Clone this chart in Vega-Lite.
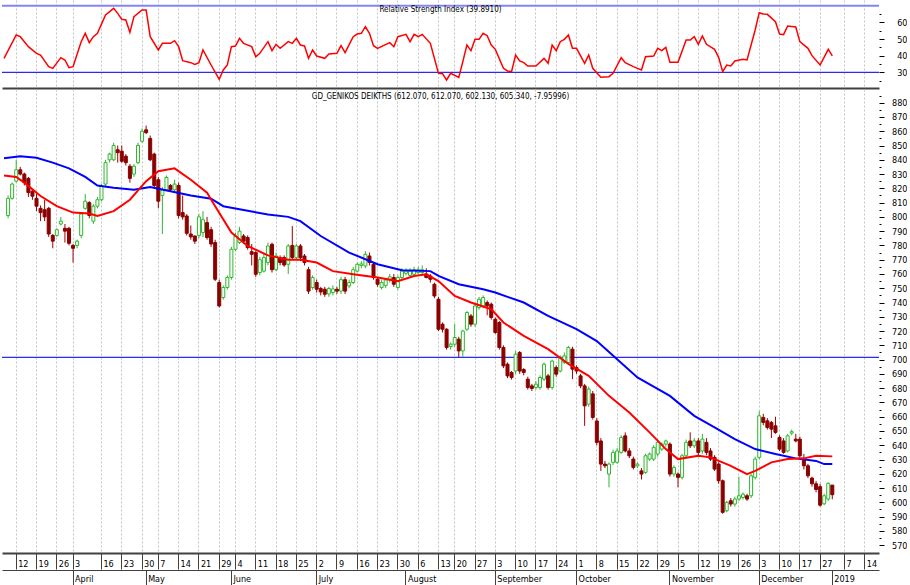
{
"$schema": "https://vega.github.io/schema/vega-lite/v6.json",
"background": "white",
"padding": 0,
"spacing": 1,
"config": {
 "view": {"stroke": null},
 "font": "Liberation Sans Narrow, Arial Narrow, DejaVu Sans Condensed, sans-serif",
 "axis": {"labelFont": "Liberation Sans Narrow, Arial Narrow, DejaVu Sans Condensed, sans-serif", "labelFontSize": 9, "labelColor": "#000000"},
 "title": {"font": "Liberation Sans Narrow, Arial Narrow, DejaVu Sans Condensed, sans-serif", "fontSize": 8, "fontWeight": "normal", "color": "#000000"}
},
"datasets": {
 "c": [
{"d":"2018-03-08","o":801,"h":815,"l":799,"c":813},
{"d":"2018-03-09","o":813,"h":824,"l":812,"c":823},
{"d":"2018-03-12","o":825,"h":840,"l":824,"c":833},
{"d":"2018-03-13","o":833,"h":835,"l":829,"c":830},
{"d":"2018-03-14","o":830,"h":831,"l":822,"c":824},
{"d":"2018-03-15","o":827,"h":828,"l":814,"c":817},
{"d":"2018-03-16","o":818,"h":819,"l":812,"c":814.5},
{"d":"2018-03-19","o":813,"h":816,"l":804,"c":807.5},
{"d":"2018-03-20","o":806,"h":808,"l":797,"c":803},
{"d":"2018-03-21","o":805,"h":812,"l":797,"c":800},
{"d":"2018-03-22","o":806,"h":807,"l":786,"c":788},
{"d":"2018-03-23","o":787,"h":788,"l":778,"c":783},
{"d":"2018-03-26","o":787,"h":792,"l":786,"c":791},
{"d":"2018-03-27","o":795,"h":800,"l":794,"c":797},
{"d":"2018-03-28","o":792,"h":795,"l":782,"c":790},
{"d":"2018-03-29","o":792,"h":793,"l":780,"c":781.5},
{"d":"2018-04-03","o":780,"h":781,"l":768,"c":778},
{"d":"2018-04-04","o":780,"h":784,"l":778,"c":783},
{"d":"2018-04-05","o":787,"h":803,"l":785,"c":802},
{"d":"2018-04-10","o":806,"h":816,"l":805,"c":811},
{"d":"2018-04-11","o":810,"h":811,"l":799,"c":801},
{"d":"2018-04-12","o":797,"h":809,"l":795,"c":807.5},
{"d":"2018-04-13","o":807.5,"h":814,"l":806,"c":812},
{"d":"2018-04-16","o":812,"h":823,"l":811,"c":821.5},
{"d":"2018-04-17","o":823,"h":840,"l":821,"c":838},
{"d":"2018-04-18","o":840,"h":845,"l":838,"c":844},
{"d":"2018-04-19","o":840,"h":852,"l":839,"c":850},
{"d":"2018-04-20","o":847,"h":850,"l":838,"c":845},
{"d":"2018-04-23","o":846,"h":850,"l":838,"c":839},
{"d":"2018-04-24","o":842.5,"h":844,"l":836,"c":838},
{"d":"2018-04-25","o":835.5,"h":837,"l":824,"c":827},
{"d":"2018-04-26","o":830,"h":837,"l":828,"c":835.5},
{"d":"2018-04-27","o":838,"h":852,"l":837,"c":850},
{"d":"2018-04-30","o":853,"h":862,"l":852,"c":860},
{"d":"2018-05-02","o":861,"h":864,"l":858,"c":859},
{"d":"2018-05-03","o":855,"h":857,"l":839,"c":840},
{"d":"2018-05-04","o":844,"h":845,"l":820,"c":822},
{"d":"2018-05-07","o":826,"h":828,"l":806,"c":811},
{"d":"2018-05-08","o":815,"h":821,"l":788,"c":819},
{"d":"2018-05-09","o":819,"h":829,"l":818,"c":827.6},
{"d":"2018-05-10","o":822,"h":823,"l":818,"c":819},
{"d":"2018-05-11","o":819,"h":826,"l":818,"c":823},
{"d":"2018-05-14","o":822,"h":824,"l":799,"c":801},
{"d":"2018-05-15","o":803,"h":815,"l":798,"c":800},
{"d":"2018-05-16","o":800.6,"h":802,"l":787,"c":788.5},
{"d":"2018-05-17","o":788,"h":794,"l":784,"c":786},
{"d":"2018-05-18","o":786.6,"h":787,"l":781,"c":783},
{"d":"2018-05-21","o":787,"h":802,"l":785,"c":800},
{"d":"2018-05-22","o":789,"h":804,"l":786,"c":798},
{"d":"2018-05-23","o":796,"h":800,"l":784,"c":785.5},
{"d":"2018-05-24","o":791,"h":793,"l":779,"c":781},
{"d":"2018-05-25","o":782,"h":784,"l":755,"c":756.3},
{"d":"2018-05-29","o":754,"h":756,"l":736.5,"c":737.6},
{"d":"2018-05-30","o":743.5,"h":752,"l":742,"c":750.5},
{"d":"2018-05-31","o":750.5,"h":759,"l":749,"c":757.5},
{"d":"2018-06-01","o":757.5,"h":779,"l":756,"c":777.3},
{"d":"2018-06-04","o":777.3,"h":789,"l":776,"c":786.6},
{"d":"2018-06-05","o":782,"h":793,"l":781,"c":790},
{"d":"2018-06-06","o":786.6,"h":788,"l":781,"c":783},
{"d":"2018-06-07","o":785.5,"h":787,"l":777,"c":778.5},
{"d":"2018-06-08","o":775.6,"h":781,"l":766,"c":773.8},
{"d":"2018-06-11","o":775,"h":776,"l":758,"c":759.8},
{"d":"2018-06-12","o":761,"h":772,"l":759,"c":770},
{"d":"2018-06-13","o":762,"h":774,"l":761,"c":771.5},
{"d":"2018-06-14","o":768,"h":782,"l":766,"c":779.6},
{"d":"2018-06-15","o":780.8,"h":782,"l":761,"c":763},
{"d":"2018-06-18","o":763,"h":775,"l":762,"c":772.6},
{"d":"2018-06-19","o":771.5,"h":773,"l":766,"c":768},
{"d":"2018-06-20","o":771.5,"h":773,"l":765,"c":766.3},
{"d":"2018-06-21","o":766.8,"h":781,"l":760,"c":779.6},
{"d":"2018-06-22","o":780,"h":793.6,"l":770,"c":771.6},
{"d":"2018-06-25","o":771.4,"h":781,"l":770,"c":779.6},
{"d":"2018-06-26","o":779.6,"h":781,"l":769,"c":771.4},
{"d":"2018-06-27","o":772.6,"h":774,"l":766,"c":768},
{"d":"2018-06-28","o":763,"h":765,"l":746,"c":748},
{"d":"2018-06-29","o":750.5,"h":759,"l":749,"c":757.5},
{"d":"2018-07-02","o":754,"h":756,"l":747,"c":749.3},
{"d":"2018-07-03","o":749.8,"h":751,"l":745,"c":747.4},
{"d":"2018-07-04","o":749.3,"h":751,"l":744,"c":745.8},
{"d":"2018-07-05","o":746,"h":751,"l":744,"c":749.8},
{"d":"2018-07-06","o":747,"h":752,"l":745,"c":749.5},
{"d":"2018-07-09","o":749.3,"h":751,"l":746,"c":748},
{"d":"2018-07-10","o":748,"h":758,"l":746,"c":756},
{"d":"2018-07-11","o":756,"h":758,"l":746,"c":748},
{"d":"2018-07-12","o":751.6,"h":756,"l":750,"c":754},
{"d":"2018-07-13","o":754,"h":765,"l":753,"c":763},
{"d":"2018-07-16","o":762,"h":768,"l":761,"c":766.8},
{"d":"2018-07-17","o":766,"h":769,"l":764,"c":767},
{"d":"2018-07-18","o":765.6,"h":776,"l":764,"c":773.8},
{"d":"2018-07-19","o":772.6,"h":775,"l":766,"c":768},
{"d":"2018-07-20","o":766.8,"h":768,"l":756,"c":757.5},
{"d":"2018-07-23","o":756.3,"h":758,"l":751,"c":752.8},
{"d":"2018-07-24","o":750.5,"h":756,"l":749,"c":754},
{"d":"2018-07-25","o":752,"h":757,"l":750,"c":755.8},
{"d":"2018-07-26","o":756,"h":760,"l":754,"c":758},
{"d":"2018-07-27","o":757.5,"h":760,"l":751,"c":752.8},
{"d":"2018-07-30","o":750.5,"h":759,"l":749,"c":757.5},
{"d":"2018-07-31","o":757.5,"h":764,"l":756,"c":762},
{"d":"2018-08-01","o":760.5,"h":764,"l":759,"c":762},
{"d":"2018-08-02","o":759,"h":764,"l":758,"c":762},
{"d":"2018-08-03","o":759.8,"h":765,"l":758,"c":763},
{"d":"2018-08-06","o":761,"h":765,"l":760,"c":763},
{"d":"2018-08-07","o":761,"h":766,"l":760,"c":763},
{"d":"2018-08-08","o":760,"h":764,"l":757,"c":757.5},
{"d":"2018-08-09","o":758.6,"h":760,"l":754,"c":756.3},
{"d":"2018-08-10","o":752.8,"h":754,"l":743,"c":744.6},
{"d":"2018-08-13","o":742.3,"h":744,"l":720,"c":721.3},
{"d":"2018-08-14","o":724.8,"h":726,"l":719,"c":721.3},
{"d":"2018-08-16","o":721.3,"h":722,"l":707,"c":708.5},
{"d":"2018-08-17","o":709.2,"h":712,"l":707,"c":710.8},
{"d":"2018-08-20","o":710.8,"h":725,"l":709,"c":715.5},
{"d":"2018-08-21","o":714.3,"h":716,"l":701.7,"c":706.1},
{"d":"2018-08-22","o":706.1,"h":721,"l":702,"c":720},
{"d":"2018-08-23","o":721.3,"h":734,"l":720,"c":733},
{"d":"2018-08-24","o":730.6,"h":732,"l":723,"c":724.8},
{"d":"2018-08-27","o":724.8,"h":739,"l":723,"c":737.6},
{"d":"2018-08-28","o":736.5,"h":744,"l":735,"c":742.3},
{"d":"2018-08-29","o":737.6,"h":745,"l":736,"c":743.5},
{"d":"2018-08-30","o":740,"h":741.5,"l":731,"c":737.6},
{"d":"2018-08-31","o":738.8,"h":740,"l":728,"c":729.5},
{"d":"2018-09-03","o":728.3,"h":729.5,"l":718,"c":719},
{"d":"2018-09-04","o":726,"h":727,"l":707,"c":708.5},
{"d":"2018-09-05","o":708.5,"h":710,"l":694,"c":695.6},
{"d":"2018-09-06","o":696.8,"h":698,"l":687,"c":688.6},
{"d":"2018-09-07","o":691,"h":692,"l":686,"c":687.5},
{"d":"2018-09-10","o":692,"h":706,"l":690,"c":703.8},
{"d":"2018-09-11","o":705,"h":706,"l":690,"c":692},
{"d":"2018-09-12","o":693,"h":694,"l":689,"c":691},
{"d":"2018-09-13","o":686.3,"h":688,"l":679,"c":680.5},
{"d":"2018-09-14","o":681.6,"h":683,"l":678,"c":679.8},
{"d":"2018-09-17","o":680.5,"h":685,"l":679,"c":682.8},
{"d":"2018-09-18","o":680.5,"h":689,"l":679,"c":687.5},
{"d":"2018-09-19","o":686.3,"h":698,"l":685,"c":696.8},
{"d":"2018-09-20","o":688.6,"h":690,"l":679,"c":680.5},
{"d":"2018-09-21","o":680.5,"h":700,"l":679,"c":699},
{"d":"2018-09-24","o":694.5,"h":696,"l":688,"c":689.8},
{"d":"2018-09-25","o":692,"h":703,"l":691,"c":701.5},
{"d":"2018-09-26","o":698,"h":705,"l":697,"c":702.6},
{"d":"2018-09-27","o":698,"h":709.6,"l":697,"c":708.5},
{"d":"2018-09-28","o":707.3,"h":709,"l":686.3,"c":693.3},
{"d":"2018-10-01","o":694.5,"h":696,"l":690,"c":692},
{"d":"2018-10-02","o":688.6,"h":690,"l":680,"c":681.6},
{"d":"2018-10-03","o":681.6,"h":683,"l":653.6,"c":667.6},
{"d":"2018-10-04","o":668.8,"h":681,"l":667,"c":679.3},
{"d":"2018-10-05","o":676,"h":678,"l":658,"c":659.5},
{"d":"2018-10-08","o":657,"h":659,"l":640,"c":642},
{"d":"2018-10-09","o":643,"h":645,"l":622,"c":626.8},
{"d":"2018-10-10","o":626.8,"h":629,"l":624,"c":625.6},
{"d":"2018-10-11","o":619.8,"h":628,"l":610.5,"c":626.8},
{"d":"2018-10-12","o":628,"h":637,"l":626,"c":635},
{"d":"2018-10-15","o":628,"h":638,"l":627,"c":636},
{"d":"2018-10-16","o":635,"h":647,"l":634,"c":645.5},
{"d":"2018-10-17","o":646.6,"h":649,"l":635,"c":636},
{"d":"2018-10-18","o":636,"h":638,"l":631,"c":632.6},
{"d":"2018-10-19","o":630.3,"h":632,"l":623,"c":624.5},
{"d":"2018-10-22","o":625.6,"h":628,"l":624,"c":626.8},
{"d":"2018-10-23","o":622,"h":624,"l":616,"c":619.8},
{"d":"2018-10-24","o":621,"h":634,"l":620,"c":632.6},
{"d":"2018-10-25","o":630.3,"h":635,"l":629,"c":633.8},
{"d":"2018-10-26","o":630.3,"h":640,"l":629,"c":638.5},
{"d":"2018-10-29","o":633.8,"h":644,"l":632,"c":642},
{"d":"2018-10-30","o":637.3,"h":642,"l":636,"c":640.8},
{"d":"2018-10-31","o":640.8,"h":644,"l":639,"c":643},
{"d":"2018-11-01","o":640.8,"h":642,"l":618,"c":619.8},
{"d":"2018-11-02","o":619.8,"h":626,"l":618,"c":624.5},
{"d":"2018-11-05","o":619.8,"h":621,"l":610.5,"c":617.5},
{"d":"2018-11-06","o":617.5,"h":634,"l":616,"c":632.6},
{"d":"2018-11-07","o":632.6,"h":644,"l":631,"c":642},
{"d":"2018-11-08","o":643,"h":649,"l":638,"c":639.6},
{"d":"2018-11-09","o":639.6,"h":645,"l":638,"c":643},
{"d":"2018-11-12","o":643,"h":645,"l":633,"c":635},
{"d":"2018-11-13","o":636,"h":648,"l":634,"c":644.3},
{"d":"2018-11-14","o":642,"h":645,"l":633,"c":635},
{"d":"2018-11-15","o":636,"h":638,"l":629,"c":630.3},
{"d":"2018-11-16","o":631.5,"h":633,"l":622,"c":623.3},
{"d":"2018-11-19","o":626.8,"h":628,"l":613,"c":615.1},
{"d":"2018-11-20","o":615.1,"h":616,"l":592,"c":593},
{"d":"2018-11-21","o":594.1,"h":601,"l":593,"c":600},
{"d":"2018-11-22","o":601.1,"h":603,"l":597,"c":598.8},
{"d":"2018-11-23","o":598.8,"h":604,"l":597,"c":602.3},
{"d":"2018-11-26","o":602.3,"h":618,"l":601,"c":604.6},
{"d":"2018-11-27","o":603.4,"h":607,"l":602,"c":605.7},
{"d":"2018-11-28","o":604.6,"h":606,"l":601,"c":602.3},
{"d":"2018-11-29","o":604.6,"h":620,"l":603,"c":618.6},
{"d":"2018-11-30","o":617.5,"h":632,"l":616,"c":630.3},
{"d":"2018-12-03","o":631.5,"h":663.9,"l":630,"c":660.6},
{"d":"2018-12-04","o":659.5,"h":662,"l":654,"c":656},
{"d":"2018-12-05","o":657.1,"h":659,"l":651,"c":652.5},
{"d":"2018-12-06","o":656,"h":657,"l":645,"c":651.3},
{"d":"2018-12-07","o":653.6,"h":660,"l":648,"c":649},
{"d":"2018-12-10","o":645.5,"h":647,"l":636,"c":637.3},
{"d":"2018-12-11","o":643,"h":645,"l":634,"c":635},
{"d":"2018-12-12","o":636,"h":648,"l":635,"c":646.6},
{"d":"2018-12-13","o":648.5,"h":651,"l":647,"c":649.5},
{"d":"2018-12-14","o":644.3,"h":648,"l":642,"c":643},
{"d":"2018-12-17","o":644.3,"h":646,"l":631,"c":632.6},
{"d":"2018-12-18","o":630.3,"h":634,"l":623,"c":625.6},
{"d":"2018-12-19","o":625.6,"h":627,"l":617,"c":618.6},
{"d":"2018-12-20","o":617,"h":618,"l":611,"c":613},
{"d":"2018-12-21","o":613,"h":615,"l":607,"c":609},
{"d":"2018-12-27","o":611,"h":613,"l":597,"c":598},
{"d":"2018-12-28","o":599,"h":606,"l":598,"c":604.6},
{"d":"2018-12-31","o":602.3,"h":614,"l":601,"c":613.3},
{"d":"2019-01-02","o":612.07,"h":612.07,"l":602.13,"c":605.34}
 ],
 "ma": [
{"d":"2018-03-07","k":"MA50","v":841},{"d":"2018-03-13","k":"MA50","v":842.5},{"d":"2018-03-19","k":"MA50","v":841.4},{"d":"2018-03-23","k":"MA50","v":838},{"d":"2018-03-29","k":"MA50","v":834},{"d":"2018-04-10","k":"MA50","v":828},{"d":"2018-04-13","k":"MA50","v":822},{"d":"2018-04-19","k":"MA50","v":820.4},{"d":"2018-04-26","k":"MA50","v":819},{"d":"2018-05-03","k":"MA50","v":821},{"d":"2018-05-10","k":"MA50","v":818},{"d":"2018-05-17","k":"MA50","v":815},{"d":"2018-05-24","k":"MA50","v":812.7},{"d":"2018-05-30","k":"MA50","v":807.5},{"d":"2018-06-06","k":"MA50","v":804.8},{"d":"2018-06-14","k":"MA50","v":801.7},{"d":"2018-06-21","k":"MA50","v":800},{"d":"2018-06-26","k":"MA50","v":797},{"d":"2018-07-03","k":"MA50","v":786.6},{"d":"2018-07-12","k":"MA50","v":775},{"d":"2018-07-23","k":"MA50","v":766.8},{"d":"2018-07-31","k":"MA50","v":762.6},{"d":"2018-08-09","k":"MA50","v":762},{"d":"2018-08-13","k":"MA50","v":758.6},{"d":"2018-08-21","k":"MA50","v":752.8},{"d":"2018-08-29","k":"MA50","v":749.3},{"d":"2018-09-03","k":"MA50","v":747},{"d":"2018-09-12","k":"MA50","v":740},{"d":"2018-09-20","k":"MA50","v":730.6},{"d":"2018-10-01","k":"MA50","v":721.3},{"d":"2018-10-08","k":"MA50","v":713},{"d":"2018-10-15","k":"MA50","v":700.3},{"d":"2018-10-22","k":"MA50","v":687.5},{"d":"2018-10-26","k":"MA50","v":681},{"d":"2018-11-01","k":"MA50","v":674.6},{"d":"2018-11-09","k":"MA50","v":660.6},{"d":"2018-11-16","k":"MA50","v":652.5},{"d":"2018-11-23","k":"MA50","v":644.3},{"d":"2018-11-30","k":"MA50","v":637.3},{"d":"2018-12-07","k":"MA50","v":633.8},{"d":"2018-12-14","k":"MA50","v":630.8},{"d":"2018-12-21","k":"MA50","v":629},{"d":"2018-12-28","k":"MA50","v":626.8},{"d":"2019-01-02","k":"MA50","v":626.8},
{"d":"2018-03-07","k":"MA20","v":829},{"d":"2018-03-12","k":"MA20","v":828},{"d":"2018-03-14","k":"MA20","v":824},{"d":"2018-03-20","k":"MA20","v":814.6},{"d":"2018-03-26","k":"MA20","v":807.5},{"d":"2018-04-03","k":"MA20","v":803},{"d":"2018-04-11","k":"MA20","v":802.4},{"d":"2018-04-13","k":"MA20","v":800.6},{"d":"2018-04-19","k":"MA20","v":804},{"d":"2018-04-25","k":"MA20","v":812},{"d":"2018-05-02","k":"MA20","v":825},{"d":"2018-05-07","k":"MA20","v":832},{"d":"2018-05-11","k":"MA20","v":834},{"d":"2018-05-17","k":"MA20","v":826},{"d":"2018-05-23","k":"MA20","v":817},{"d":"2018-05-25","k":"MA20","v":807.5},{"d":"2018-06-01","k":"MA20","v":789},{"d":"2018-06-07","k":"MA20","v":779.6},{"d":"2018-06-14","k":"MA20","v":773},{"d":"2018-06-21","k":"MA20","v":770},{"d":"2018-06-26","k":"MA20","v":770},{"d":"2018-07-02","k":"MA20","v":768},{"d":"2018-07-06","k":"MA20","v":762},{"d":"2018-07-13","k":"MA20","v":759.8},{"d":"2018-07-23","k":"MA20","v":757.5},{"d":"2018-07-30","k":"MA20","v":755},{"d":"2018-08-03","k":"MA20","v":758.6},{"d":"2018-08-08","k":"MA20","v":759.8},{"d":"2018-08-13","k":"MA20","v":755},{"d":"2018-08-20","k":"MA20","v":744.6},{"d":"2018-08-24","k":"MA20","v":740},{"d":"2018-08-31","k":"MA20","v":735.3},{"d":"2018-09-05","k":"MA20","v":726},{"d":"2018-09-12","k":"MA20","v":716.6},{"d":"2018-09-20","k":"MA20","v":707.3},{"d":"2018-09-27","k":"MA20","v":697},{"d":"2018-10-04","k":"MA20","v":688.6},{"d":"2018-10-11","k":"MA20","v":674.6},{"d":"2018-10-18","k":"MA20","v":663},{"d":"2018-10-25","k":"MA20","v":649},{"d":"2018-10-31","k":"MA20","v":637.3},{"d":"2018-11-05","k":"MA20","v":630.3},{"d":"2018-11-12","k":"MA20","v":632.6},{"d":"2018-11-15","k":"MA20","v":631.5},{"d":"2018-11-22","k":"MA20","v":625.6},{"d":"2018-11-28","k":"MA20","v":619.8},{"d":"2018-11-30","k":"MA20","v":622},{"d":"2018-12-06","k":"MA20","v":628},{"d":"2018-12-12","k":"MA20","v":630.3},{"d":"2018-12-18","k":"MA20","v":630.8},{"d":"2018-12-21","k":"MA20","v":632.6},{"d":"2019-01-02","k":"MA20","v":632.2}
 ],
 "rsi": [
{"d":"2018-03-07","r":38.4},{"d":"2018-03-12","r":52.4},{"d":"2018-03-13","r":51.4},{"d":"2018-03-15","r":45.4},{"d":"2018-03-19","r":41.4},{"d":"2018-03-20","r":40.4},{"d":"2018-03-22","r":33.4},{"d":"2018-03-23","r":32.4},{"d":"2018-03-27","r":38.8},{"d":"2018-03-28","r":37.4},{"d":"2018-03-29","r":32.8},{"d":"2018-04-03","r":33.4},{"d":"2018-04-05","r":48.4},{"d":"2018-04-10","r":53.4},{"d":"2018-04-11","r":47.8},{"d":"2018-04-12","r":51.4},{"d":"2018-04-13","r":53.4},{"d":"2018-04-17","r":64.4},{"d":"2018-04-19","r":68.4},{"d":"2018-04-20","r":65.4},{"d":"2018-04-23","r":61.8},{"d":"2018-04-24","r":61.4},{"d":"2018-04-25","r":54},{"d":"2018-04-26","r":63.4},{"d":"2018-04-30","r":67.4},{"d":"2018-05-02","r":67.4},{"d":"2018-05-03","r":51.4},{"d":"2018-05-07","r":43.4},{"d":"2018-05-08","r":47.4},{"d":"2018-05-10","r":47.4},{"d":"2018-05-11","r":49},{"d":"2018-05-14","r":45.4},{"d":"2018-05-15","r":37},{"d":"2018-05-17","r":35.8},{"d":"2018-05-18","r":34.8},{"d":"2018-05-21","r":35.8},{"d":"2018-05-22","r":43.4},{"d":"2018-05-24","r":34.4},{"d":"2018-05-29","r":25.8},{"d":"2018-05-30","r":31.4},{"d":"2018-05-31","r":34.4},{"d":"2018-06-01","r":45.4},{"d":"2018-06-04","r":45.8},{"d":"2018-06-05","r":50.4},{"d":"2018-06-06","r":47.4},{"d":"2018-06-08","r":45.4},{"d":"2018-06-11","r":39.4},{"d":"2018-06-12","r":41.4},{"d":"2018-06-14","r":48.4},{"d":"2018-06-15","r":43},{"d":"2018-06-18","r":46.8},{"d":"2018-06-19","r":44.4},{"d":"2018-06-21","r":48.4},{"d":"2018-06-22","r":47.4},{"d":"2018-06-25","r":50.4},{"d":"2018-06-26","r":46.4},{"d":"2018-06-27","r":45.8},{"d":"2018-06-28","r":38.4},{"d":"2018-06-29","r":43.4},{"d":"2018-07-02","r":39.8},{"d":"2018-07-04","r":38.4},{"d":"2018-07-05","r":41},{"d":"2018-07-09","r":41.4},{"d":"2018-07-10","r":46},{"d":"2018-07-11","r":41.8},{"d":"2018-07-13","r":51.4},{"d":"2018-07-16","r":53},{"d":"2018-07-17","r":53.4},{"d":"2018-07-18","r":57.4},{"d":"2018-07-19","r":53.4},{"d":"2018-07-20","r":46},{"d":"2018-07-23","r":44.4},{"d":"2018-07-26","r":47.8},{"d":"2018-07-27","r":45.4},{"d":"2018-07-30","r":51.4},{"d":"2018-08-01","r":52.8},{"d":"2018-08-02","r":48.4},{"d":"2018-08-03","r":52.8},{"d":"2018-08-06","r":51.4},{"d":"2018-08-07","r":52.8},{"d":"2018-08-09","r":47.4},{"d":"2018-08-13","r":29.4},{"d":"2018-08-14","r":29.2},{"d":"2018-08-16","r":25.4},{"d":"2018-08-17","r":29.4},{"d":"2018-08-21","r":27},{"d":"2018-08-22","r":36.4},{"d":"2018-08-23","r":46.4},{"d":"2018-08-24","r":43},{"d":"2018-08-27","r":49.8},{"d":"2018-08-28","r":49.8},{"d":"2018-08-29","r":53.4},{"d":"2018-08-30","r":52},{"d":"2018-08-31","r":46.4},{"d":"2018-09-03","r":43.8},{"d":"2018-09-05","r":32.4},{"d":"2018-09-06","r":30.8},{"d":"2018-09-07","r":30.4},{"d":"2018-09-10","r":40.4},{"d":"2018-09-11","r":36.8},{"d":"2018-09-12","r":35.8},{"d":"2018-09-13","r":33.8},{"d":"2018-09-17","r":33.8},{"d":"2018-09-19","r":38.4},{"d":"2018-09-20","r":35.4},{"d":"2018-09-21","r":46.4},{"d":"2018-09-24","r":43},{"d":"2018-09-25","r":48.4},{"d":"2018-09-26","r":49.8},{"d":"2018-09-27","r":52.4},{"d":"2018-09-28","r":44.4},{"d":"2018-10-01","r":44.4},{"d":"2018-10-03","r":35.4},{"d":"2018-10-04","r":40.4},{"d":"2018-10-05","r":32.4},{"d":"2018-10-09","r":27},{"d":"2018-10-11","r":27.4},{"d":"2018-10-12","r":29.4},{"d":"2018-10-16","r":38.8},{"d":"2018-10-17","r":35.8},{"d":"2018-10-19","r":33.4},{"d":"2018-10-22","r":32.4},{"d":"2018-10-23","r":31.4},{"d":"2018-10-24","r":39.4},{"d":"2018-10-26","r":39.8},{"d":"2018-10-29","r":44.4},{"d":"2018-10-30","r":43},{"d":"2018-10-31","r":45},{"d":"2018-11-01","r":36},{"d":"2018-11-05","r":36},{"d":"2018-11-07","r":49.4},{"d":"2018-11-08","r":49.4},{"d":"2018-11-09","r":51.4},{"d":"2018-11-12","r":46.8},{"d":"2018-11-13","r":51.8},{"d":"2018-11-14","r":46.8},{"d":"2018-11-16","r":43.8},{"d":"2018-11-19","r":39},{"d":"2018-11-20","r":30.4},{"d":"2018-11-21","r":34.4},{"d":"2018-11-22","r":33.8},{"d":"2018-11-23","r":36.8},{"d":"2018-11-27","r":37.8},{"d":"2018-11-28","r":37.4},{"d":"2018-11-30","r":55.4},{"d":"2018-12-03","r":65.8},{"d":"2018-12-04","r":65},{"d":"2018-12-05","r":64.8},{"d":"2018-12-07","r":60.4},{"d":"2018-12-10","r":53},{"d":"2018-12-11","r":52.6},{"d":"2018-12-12","r":57.8},{"d":"2018-12-14","r":57.2},{"d":"2018-12-17","r":48.4},{"d":"2018-12-19","r":44.4},{"d":"2018-12-20","r":40},{"d":"2018-12-27","r":34.4},{"d":"2018-12-31","r":43.8},{"d":"2019-01-02","r":39.9}
 ]
},
"vconcat": [
 {
  "width": 877, "height": 88,
  "title": {"text": "Relative Strength Index (39.8910)", "offset": -14, "anchor": "middle", "frame": "group"},
  "resolve": {"axis": {"y": "independent"}},
  "layer": [
   {"data": {"values": [{}]}, "mark": {"type": "rule", "stroke": "#8484f4", "strokeWidth": 2}, "encoding": {"y": {"datum": 70, "type": "quantitative", "axis": null}}},
   {"data": {"values": [{}]}, "mark": {"type": "rule", "stroke": "#2a2af0", "strokeWidth": 1.2},
    "encoding": {"y": {"datum": 30, "type": "quantitative", "axis": {"orient": "right", "values": [25, 35, 45, 55, 65], "labels": false, "tickSize": 2, "tickColor": "#000000", "domain": false, "grid": false, "title": null}}}},
   {"data": {"name": "rsi"}, "mark": {"type": "line", "stroke": "#ff0000", "strokeWidth": 1.5},
    "encoding": {
     "x": {"field": "d", "type": "ordinal", "title": null,
       "scale": {"type": "band", "paddingInner": 0, "paddingOuter": 0, "domain": ["2018-03-07","2018-03-08","2018-03-09","2018-03-12","2018-03-13","2018-03-14","2018-03-15","2018-03-16","2018-03-19","2018-03-20","2018-03-21","2018-03-22","2018-03-23","2018-03-26","2018-03-27","2018-03-28","2018-03-29","2018-04-03","2018-04-04","2018-04-05","2018-04-10","2018-04-11","2018-04-12","2018-04-13","2018-04-16","2018-04-17","2018-04-18","2018-04-19","2018-04-20","2018-04-23","2018-04-24","2018-04-25","2018-04-26","2018-04-27","2018-04-30","2018-05-02","2018-05-03","2018-05-04","2018-05-07","2018-05-08","2018-05-09","2018-05-10","2018-05-11","2018-05-14","2018-05-15","2018-05-16","2018-05-17","2018-05-18","2018-05-21","2018-05-22","2018-05-23","2018-05-24","2018-05-25","2018-05-29","2018-05-30","2018-05-31","2018-06-01","2018-06-04","2018-06-05","2018-06-06","2018-06-07","2018-06-08","2018-06-11","2018-06-12","2018-06-13","2018-06-14","2018-06-15","2018-06-18","2018-06-19","2018-06-20","2018-06-21","2018-06-22","2018-06-25","2018-06-26","2018-06-27","2018-06-28","2018-06-29","2018-07-02","2018-07-03","2018-07-04","2018-07-05","2018-07-06","2018-07-09","2018-07-10","2018-07-11","2018-07-12","2018-07-13","2018-07-16","2018-07-17","2018-07-18","2018-07-19","2018-07-20","2018-07-23","2018-07-24","2018-07-25","2018-07-26","2018-07-27","2018-07-30","2018-07-31","2018-08-01","2018-08-02","2018-08-03","2018-08-06","2018-08-07","2018-08-08","2018-08-09","2018-08-10","2018-08-13","2018-08-14","2018-08-16","2018-08-17","2018-08-20","2018-08-21","2018-08-22","2018-08-23","2018-08-24","2018-08-27","2018-08-28","2018-08-29","2018-08-30","2018-08-31","2018-09-03","2018-09-04","2018-09-05","2018-09-06","2018-09-07","2018-09-10","2018-09-11","2018-09-12","2018-09-13","2018-09-14","2018-09-17","2018-09-18","2018-09-19","2018-09-20","2018-09-21","2018-09-24","2018-09-25","2018-09-26","2018-09-27","2018-09-28","2018-10-01","2018-10-02","2018-10-03","2018-10-04","2018-10-05","2018-10-08","2018-10-09","2018-10-10","2018-10-11","2018-10-12","2018-10-15","2018-10-16","2018-10-17","2018-10-18","2018-10-19","2018-10-22","2018-10-23","2018-10-24","2018-10-25","2018-10-26","2018-10-29","2018-10-30","2018-10-31","2018-11-01","2018-11-02","2018-11-05","2018-11-06","2018-11-07","2018-11-08","2018-11-09","2018-11-12","2018-11-13","2018-11-14","2018-11-15","2018-11-16","2018-11-19","2018-11-20","2018-11-21","2018-11-22","2018-11-23","2018-11-26","2018-11-27","2018-11-28","2018-11-29","2018-11-30","2018-12-03","2018-12-04","2018-12-05","2018-12-06","2018-12-07","2018-12-10","2018-12-11","2018-12-12","2018-12-13","2018-12-14","2018-12-17","2018-12-18","2018-12-19","2018-12-20","2018-12-21","2018-12-27","2018-12-28","2018-12-31","2019-01-02","2019-01-03","2019-01-04","2019-01-07","2019-01-08","2019-01-09","2019-01-10","2019-01-11","2019-01-14","2019-01-15","2019-01-16","2019-01-17"]},
       "axis": {"values": ["2018-03-12","2018-03-19","2018-03-26","2018-04-03","2018-04-16","2018-04-23","2018-04-30","2018-05-07","2018-05-14","2018-05-21","2018-05-29","2018-06-04","2018-06-11","2018-06-18","2018-06-25","2018-07-02","2018-07-09","2018-07-16","2018-07-23","2018-07-30","2018-08-06","2018-08-13","2018-08-20","2018-08-27","2018-09-03","2018-09-10","2018-09-17","2018-09-24","2018-10-01","2018-10-08","2018-10-15","2018-10-22","2018-10-29","2018-11-05","2018-11-12","2018-11-19","2018-11-26","2018-12-03","2018-12-10","2018-12-17","2018-12-27","2019-01-07","2019-01-14"], "bandPosition": 0.5, "labels": false, "ticks": false, "grid": true, "gridColor": "#c4c4c4", "gridDash": [2, 2], "domain": true, "domainColor": "#404040", "domainWidth": 2}},
     "y": {"field": "r", "type": "quantitative", "title": null, "scale": {"domain": [20.6, 73.4], "nice": false, "zero": false},
       "axis": {"orient": "right", "values": [30, 40, 50, 60], "tickSize": 5, "tickColor": "#000000", "domain": false, "grid": false, "labelAlign": "right", "labelPadding": 23, "labelOverlap": false, "labelFontSize": 9, "title": null}}
    }}
  ]
 },
 {
  "width": 877, "height": 464,
  "title": {"text": "GD_GENIKOS DEIKTHS (612.070, 612.070, 602.130, 605.340, -7.95996)", "offset": -12, "anchor": "middle", "frame": "group"},
  "resolve": {"axis": {"x": "independent", "y": "independent"}},
  "layer": [
   {"data": {"values": [{}]}, "mark": {"type": "rule", "stroke": "#2a2aff", "strokeWidth": 1.2}, "encoding": {"y": {"datum": 701.5, "type": "quantitative", "axis": null}}},
   {"data": {"name": "c"}, "mark": {"type": "rule", "strokeWidth": 1},
    "encoding": {
     "x": {"field": "d", "type": "ordinal", "title": null,
       "scale": {"type": "band", "paddingInner": 0, "paddingOuter": 0, "domain": ["2018-03-07","2018-03-08","2018-03-09","2018-03-12","2018-03-13","2018-03-14","2018-03-15","2018-03-16","2018-03-19","2018-03-20","2018-03-21","2018-03-22","2018-03-23","2018-03-26","2018-03-27","2018-03-28","2018-03-29","2018-04-03","2018-04-04","2018-04-05","2018-04-10","2018-04-11","2018-04-12","2018-04-13","2018-04-16","2018-04-17","2018-04-18","2018-04-19","2018-04-20","2018-04-23","2018-04-24","2018-04-25","2018-04-26","2018-04-27","2018-04-30","2018-05-02","2018-05-03","2018-05-04","2018-05-07","2018-05-08","2018-05-09","2018-05-10","2018-05-11","2018-05-14","2018-05-15","2018-05-16","2018-05-17","2018-05-18","2018-05-21","2018-05-22","2018-05-23","2018-05-24","2018-05-25","2018-05-29","2018-05-30","2018-05-31","2018-06-01","2018-06-04","2018-06-05","2018-06-06","2018-06-07","2018-06-08","2018-06-11","2018-06-12","2018-06-13","2018-06-14","2018-06-15","2018-06-18","2018-06-19","2018-06-20","2018-06-21","2018-06-22","2018-06-25","2018-06-26","2018-06-27","2018-06-28","2018-06-29","2018-07-02","2018-07-03","2018-07-04","2018-07-05","2018-07-06","2018-07-09","2018-07-10","2018-07-11","2018-07-12","2018-07-13","2018-07-16","2018-07-17","2018-07-18","2018-07-19","2018-07-20","2018-07-23","2018-07-24","2018-07-25","2018-07-26","2018-07-27","2018-07-30","2018-07-31","2018-08-01","2018-08-02","2018-08-03","2018-08-06","2018-08-07","2018-08-08","2018-08-09","2018-08-10","2018-08-13","2018-08-14","2018-08-16","2018-08-17","2018-08-20","2018-08-21","2018-08-22","2018-08-23","2018-08-24","2018-08-27","2018-08-28","2018-08-29","2018-08-30","2018-08-31","2018-09-03","2018-09-04","2018-09-05","2018-09-06","2018-09-07","2018-09-10","2018-09-11","2018-09-12","2018-09-13","2018-09-14","2018-09-17","2018-09-18","2018-09-19","2018-09-20","2018-09-21","2018-09-24","2018-09-25","2018-09-26","2018-09-27","2018-09-28","2018-10-01","2018-10-02","2018-10-03","2018-10-04","2018-10-05","2018-10-08","2018-10-09","2018-10-10","2018-10-11","2018-10-12","2018-10-15","2018-10-16","2018-10-17","2018-10-18","2018-10-19","2018-10-22","2018-10-23","2018-10-24","2018-10-25","2018-10-26","2018-10-29","2018-10-30","2018-10-31","2018-11-01","2018-11-02","2018-11-05","2018-11-06","2018-11-07","2018-11-08","2018-11-09","2018-11-12","2018-11-13","2018-11-14","2018-11-15","2018-11-16","2018-11-19","2018-11-20","2018-11-21","2018-11-22","2018-11-23","2018-11-26","2018-11-27","2018-11-28","2018-11-29","2018-11-30","2018-12-03","2018-12-04","2018-12-05","2018-12-06","2018-12-07","2018-12-10","2018-12-11","2018-12-12","2018-12-13","2018-12-14","2018-12-17","2018-12-18","2018-12-19","2018-12-20","2018-12-21","2018-12-27","2018-12-28","2018-12-31","2019-01-02","2019-01-03","2019-01-04","2019-01-07","2019-01-08","2019-01-09","2019-01-10","2019-01-11","2019-01-14","2019-01-15","2019-01-16","2019-01-17"]},
       "axis": {"values": ["2018-03-12","2018-03-19","2018-03-26","2018-04-03","2018-04-16","2018-04-23","2018-04-30","2018-05-07","2018-05-14","2018-05-21","2018-05-29","2018-06-04","2018-06-11","2018-06-18","2018-06-25","2018-07-02","2018-07-09","2018-07-16","2018-07-23","2018-07-30","2018-08-06","2018-08-13","2018-08-20","2018-08-27","2018-09-03","2018-09-10","2018-09-17","2018-09-24","2018-10-01","2018-10-08","2018-10-15","2018-10-22","2018-10-29","2018-11-05","2018-11-12","2018-11-19","2018-11-26","2018-12-03","2018-12-10","2018-12-17","2018-12-27","2019-01-07","2019-01-14"], "labelExpr": "toNumber(substring(datum.value, 8, 10))", "bandPosition": 0.5, "grid": true, "gridColor": "#c4c4c4", "gridDash": [2, 2], "ticks": true, "tickSize": 16, "tickColor": "#404040", "labelAlign": "left", "labelBaseline": "top", "labelPadding": -10, "labelOffset": 2, "labelAngle": 0, "labelOverlap": false, "labelFlush": false, "labelBound": false, "domain": true, "domainColor": "#404040", "domainWidth": 2}},
     "y": {"field": "l", "type": "quantitative", "title": null, "scale": {"domain": [564.5, 889.6], "nice": false, "zero": false},
       "axis": {"orient": "right", "values": [570,580,590,600,610,620,630,640,650,660,670,680,690,700,710,720,730,740,750,760,770,780,790,800,810,820,830,840,850,860,870,880], "tickSize": 5, "tickColor": "#000000", "domain": false, "grid": false, "labelAlign": "right", "labelPadding": 23, "labelOverlap": false, "labelFontSize": 9, "title": null}},
     "y2": {"field": "h"},
     "color": {"condition": {"test": "datum.c >= datum.o", "value": "#2eb82e"}, "value": "#a00000"}
    }},
   {"data": {"name": "c"}, "mark": {"type": "bar", "width": 3, "strokeWidth": 1},
    "encoding": {
     "x": {"field": "d", "type": "ordinal", "title": null,
       "scale": {"type": "band", "paddingInner": 0, "paddingOuter": 0, "domain": ["2018-03-07","2018-03-08","2018-03-09","2018-03-12","2018-03-13","2018-03-14","2018-03-15","2018-03-16","2018-03-19","2018-03-20","2018-03-21","2018-03-22","2018-03-23","2018-03-26","2018-03-27","2018-03-28","2018-03-29","2018-04-03","2018-04-04","2018-04-05","2018-04-10","2018-04-11","2018-04-12","2018-04-13","2018-04-16","2018-04-17","2018-04-18","2018-04-19","2018-04-20","2018-04-23","2018-04-24","2018-04-25","2018-04-26","2018-04-27","2018-04-30","2018-05-02","2018-05-03","2018-05-04","2018-05-07","2018-05-08","2018-05-09","2018-05-10","2018-05-11","2018-05-14","2018-05-15","2018-05-16","2018-05-17","2018-05-18","2018-05-21","2018-05-22","2018-05-23","2018-05-24","2018-05-25","2018-05-29","2018-05-30","2018-05-31","2018-06-01","2018-06-04","2018-06-05","2018-06-06","2018-06-07","2018-06-08","2018-06-11","2018-06-12","2018-06-13","2018-06-14","2018-06-15","2018-06-18","2018-06-19","2018-06-20","2018-06-21","2018-06-22","2018-06-25","2018-06-26","2018-06-27","2018-06-28","2018-06-29","2018-07-02","2018-07-03","2018-07-04","2018-07-05","2018-07-06","2018-07-09","2018-07-10","2018-07-11","2018-07-12","2018-07-13","2018-07-16","2018-07-17","2018-07-18","2018-07-19","2018-07-20","2018-07-23","2018-07-24","2018-07-25","2018-07-26","2018-07-27","2018-07-30","2018-07-31","2018-08-01","2018-08-02","2018-08-03","2018-08-06","2018-08-07","2018-08-08","2018-08-09","2018-08-10","2018-08-13","2018-08-14","2018-08-16","2018-08-17","2018-08-20","2018-08-21","2018-08-22","2018-08-23","2018-08-24","2018-08-27","2018-08-28","2018-08-29","2018-08-30","2018-08-31","2018-09-03","2018-09-04","2018-09-05","2018-09-06","2018-09-07","2018-09-10","2018-09-11","2018-09-12","2018-09-13","2018-09-14","2018-09-17","2018-09-18","2018-09-19","2018-09-20","2018-09-21","2018-09-24","2018-09-25","2018-09-26","2018-09-27","2018-09-28","2018-10-01","2018-10-02","2018-10-03","2018-10-04","2018-10-05","2018-10-08","2018-10-09","2018-10-10","2018-10-11","2018-10-12","2018-10-15","2018-10-16","2018-10-17","2018-10-18","2018-10-19","2018-10-22","2018-10-23","2018-10-24","2018-10-25","2018-10-26","2018-10-29","2018-10-30","2018-10-31","2018-11-01","2018-11-02","2018-11-05","2018-11-06","2018-11-07","2018-11-08","2018-11-09","2018-11-12","2018-11-13","2018-11-14","2018-11-15","2018-11-16","2018-11-19","2018-11-20","2018-11-21","2018-11-22","2018-11-23","2018-11-26","2018-11-27","2018-11-28","2018-11-29","2018-11-30","2018-12-03","2018-12-04","2018-12-05","2018-12-06","2018-12-07","2018-12-10","2018-12-11","2018-12-12","2018-12-13","2018-12-14","2018-12-17","2018-12-18","2018-12-19","2018-12-20","2018-12-21","2018-12-27","2018-12-28","2018-12-31","2019-01-02","2019-01-03","2019-01-04","2019-01-07","2019-01-08","2019-01-09","2019-01-10","2019-01-11","2019-01-14","2019-01-15","2019-01-16","2019-01-17"]},
       "axis": {"values": ["2018-04-03","2018-05-02","2018-06-01","2018-07-02","2018-08-01","2018-09-03","2018-10-01","2018-11-01","2018-12-03","2019-01-02"], "labelExpr": "datum.value == '2019-01-02' ? '2019' : ['','January','February','March','April','May','June','July','August','September','October','November','December'][toNumber(substring(datum.value, 5, 7))]", "orient": "bottom", "offset": 17, "bandPosition": 0.5, "grid": false, "ticks": true, "tickSize": 16, "tickColor": "#404040", "labelAlign": "left", "labelBaseline": "top", "labelPadding": -12, "labelOffset": 2, "labelAngle": 0, "labelOverlap": false, "labelFlush": false, "labelBound": false, "domain": true, "domainColor": "#404040", "domainWidth": 1}},
     "y": {"field": "o", "type": "quantitative", "title": null,
       "axis": {"orient": "right", "values": [575,585,595,605,615,625,635,645,655,665,675,685,695,705,715,725,735,745,755,765,775,785,795,805,815,825,835,845,855,865,875,885], "labels": false, "tickSize": 2, "tickColor": "#000000", "domain": false, "grid": false, "title": null}},
     "y2": {"field": "c"},
     "fill": {"condition": {"test": "datum.c >= datum.o", "value": "#ffffff"}, "value": "#8b0000"},
     "stroke": {"condition": {"test": "datum.c >= datum.o", "value": "#2eb82e"}, "value": "#8b0000"}
    }},
   {"data": {"name": "ma"}, "mark": {"type": "line", "strokeWidth": 2},
    "encoding": {
     "x": {"field": "d", "type": "ordinal", "title": null,
       "scale": {"type": "band", "paddingInner": 0, "paddingOuter": 0, "domain": ["2018-03-07","2018-03-08","2018-03-09","2018-03-12","2018-03-13","2018-03-14","2018-03-15","2018-03-16","2018-03-19","2018-03-20","2018-03-21","2018-03-22","2018-03-23","2018-03-26","2018-03-27","2018-03-28","2018-03-29","2018-04-03","2018-04-04","2018-04-05","2018-04-10","2018-04-11","2018-04-12","2018-04-13","2018-04-16","2018-04-17","2018-04-18","2018-04-19","2018-04-20","2018-04-23","2018-04-24","2018-04-25","2018-04-26","2018-04-27","2018-04-30","2018-05-02","2018-05-03","2018-05-04","2018-05-07","2018-05-08","2018-05-09","2018-05-10","2018-05-11","2018-05-14","2018-05-15","2018-05-16","2018-05-17","2018-05-18","2018-05-21","2018-05-22","2018-05-23","2018-05-24","2018-05-25","2018-05-29","2018-05-30","2018-05-31","2018-06-01","2018-06-04","2018-06-05","2018-06-06","2018-06-07","2018-06-08","2018-06-11","2018-06-12","2018-06-13","2018-06-14","2018-06-15","2018-06-18","2018-06-19","2018-06-20","2018-06-21","2018-06-22","2018-06-25","2018-06-26","2018-06-27","2018-06-28","2018-06-29","2018-07-02","2018-07-03","2018-07-04","2018-07-05","2018-07-06","2018-07-09","2018-07-10","2018-07-11","2018-07-12","2018-07-13","2018-07-16","2018-07-17","2018-07-18","2018-07-19","2018-07-20","2018-07-23","2018-07-24","2018-07-25","2018-07-26","2018-07-27","2018-07-30","2018-07-31","2018-08-01","2018-08-02","2018-08-03","2018-08-06","2018-08-07","2018-08-08","2018-08-09","2018-08-10","2018-08-13","2018-08-14","2018-08-16","2018-08-17","2018-08-20","2018-08-21","2018-08-22","2018-08-23","2018-08-24","2018-08-27","2018-08-28","2018-08-29","2018-08-30","2018-08-31","2018-09-03","2018-09-04","2018-09-05","2018-09-06","2018-09-07","2018-09-10","2018-09-11","2018-09-12","2018-09-13","2018-09-14","2018-09-17","2018-09-18","2018-09-19","2018-09-20","2018-09-21","2018-09-24","2018-09-25","2018-09-26","2018-09-27","2018-09-28","2018-10-01","2018-10-02","2018-10-03","2018-10-04","2018-10-05","2018-10-08","2018-10-09","2018-10-10","2018-10-11","2018-10-12","2018-10-15","2018-10-16","2018-10-17","2018-10-18","2018-10-19","2018-10-22","2018-10-23","2018-10-24","2018-10-25","2018-10-26","2018-10-29","2018-10-30","2018-10-31","2018-11-01","2018-11-02","2018-11-05","2018-11-06","2018-11-07","2018-11-08","2018-11-09","2018-11-12","2018-11-13","2018-11-14","2018-11-15","2018-11-16","2018-11-19","2018-11-20","2018-11-21","2018-11-22","2018-11-23","2018-11-26","2018-11-27","2018-11-28","2018-11-29","2018-11-30","2018-12-03","2018-12-04","2018-12-05","2018-12-06","2018-12-07","2018-12-10","2018-12-11","2018-12-12","2018-12-13","2018-12-14","2018-12-17","2018-12-18","2018-12-19","2018-12-20","2018-12-21","2018-12-27","2018-12-28","2018-12-31","2019-01-02","2019-01-03","2019-01-04","2019-01-07","2019-01-08","2019-01-09","2019-01-10","2019-01-11","2019-01-14","2019-01-15","2019-01-16","2019-01-17"]},
       "axis": null},
     "y": {"field": "v", "type": "quantitative", "title": null, "axis": null},
     "color": {"field": "k", "type": "nominal", "scale": {"domain": ["MA20", "MA50"], "range": ["#ff0000", "#0000ff"]}, "legend": null}
    }}
  ]
 }
]
}
